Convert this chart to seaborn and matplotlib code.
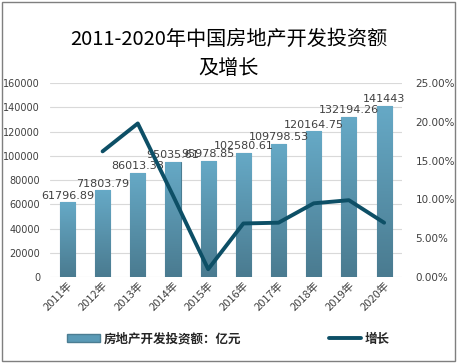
import seaborn as sns
import matplotlib.pyplot as plt
import numpy as np
import pandas as pd
from matplotlib.patches import Rectangle
from matplotlib.lines import Line2D
from matplotlib.ticker import FuncFormatter
from matplotlib.colors import LinearSegmentedColormap

years = ['2011年', '2012年', '2013年', '2014年', '2015年',
         '2016年', '2017年', '2018年', '2019年', '2020年']
invest = [61796.89, 71803.79, 86013.38, 95035.61, 95978.85,
          102580.61, 109798.53, 120164.75, 132194.26, 141443]
invest_labels = ['61796.89', '71803.79', '86013.38', '95035.61', '95978.85',
                 '102580.61', '109798.53', '120164.75', '132194.26', '141443']
growth = [np.nan, 16.2, 19.8, 10.5, 1.0, 6.9, 7.0, 9.5, 9.9, 7.0]

sns.set_theme(style='white')
plt.rcParams['font.family'] = ['Noto Sans CJK SC', 'DejaVu Sans']

df = pd.DataFrame({'year': years, 'invest': invest, 'growth': growth})

fig = plt.figure(figsize=(4.57, 3.63), dpi=100)
ax = fig.add_axes([0.109, 0.237, 0.77, 0.534])

sns.barplot(data=df, x='year', y='invest', ax=ax, color='#5a9ab6',
            width=0.43, edgecolor='#4b7d92', linewidth=0.8, saturation=1)

# vertical gradient on each bar
grad = np.linspace(0, 1, 64).reshape(-1, 1)
cmap = LinearSegmentedColormap.from_list('g', ['#4a7b90', '#66a9c6'])
for p in ax.patches:
    x0, y0 = p.get_x(), p.get_y()
    w, h = p.get_width(), p.get_height()
    im = ax.imshow(grad, cmap=cmap, origin='lower', aspect='auto',
                   extent=[x0, x0 + w, y0, y0 + h], zorder=2)
    im.set_clip_path(p)

for i, v in enumerate(invest):
    ax.text(i, v + 1200, invest_labels[i], ha='center', va='bottom',
            fontsize=8, color='#404040', zorder=5, family='DejaVu Sans')

ax.set_xlim(-0.5, 9.5)
ax.set_ylim(0, 160000)
ax.set_yticks(range(0, 160001, 20000))
ax.yaxis.grid(True, color='#d9d9d9', linewidth=0.8)
ax.set_axisbelow(True)
ax.set_xlabel('')
ax.set_ylabel('')
for s in ax.spines.values():
    s.set_visible(False)
ax.tick_params(axis='y', labelsize=7, labelcolor='#404040', length=0, pad=7)
ax.tick_params(axis='x', labelsize=8, labelcolor='#404040', length=0, pad=2)
plt.setp(ax.get_xticklabels(), rotation=45, ha='right', rotation_mode='anchor')
for t in ax.get_yticklabels():
    t.set_family('DejaVu Sans')

ax2 = ax.twinx()
sns.lineplot(x=np.arange(len(years)), y=df['growth'], ax=ax2,
             color='#0d4f66', linewidth=2.8)
ax2.set_ylim(0, 25)
ax2.set_yticks(range(0, 26, 5))
ax2.yaxis.set_major_formatter(FuncFormatter(lambda v, p: f'{v:.2f}%'))
ax2.set_ylabel('')
for s in ax2.spines.values():
    s.set_visible(False)
ax2.tick_params(axis='y', labelsize=7.5, labelcolor='#404040', length=0, pad=10)
for t in ax2.get_yticklabels():
    t.set_family('DejaVu Sans')

fig.text(0.5, 0.89, '2011-2020年中国房地产开发投资额', ha='center', va='center',
         fontsize=14.5, color='#000000', fontweight='medium')
fig.text(0.5, 0.812, '及增长', ha='center', va='center',
         fontsize=14.5, color='#000000', fontweight='medium')

handles = [Rectangle((0, 0), 1, 1, facecolor='#5a9ab6', edgecolor='#4b7d92'),
           Line2D([0], [0], color='#0d4f66', linewidth=2.8)]
fig.legend(handles, ['房地产开发投资额：亿元', '增长'], loc='center',
           bbox_to_anchor=(0.5, 0.066), ncol=2, frameon=False, fontsize=9,
           columnspacing=7, handlelength=2.6, handleheight=0.6, handletextpad=0.3,
           prop={'weight': 'bold', 'size': 9})

fig.add_artist(Rectangle((0.004, 0.006), 0.992, 0.988, transform=fig.transFigure,
                         fill=False, edgecolor='#7f7f7f', linewidth=1))

fig.savefig('out.png', dpi=100)
